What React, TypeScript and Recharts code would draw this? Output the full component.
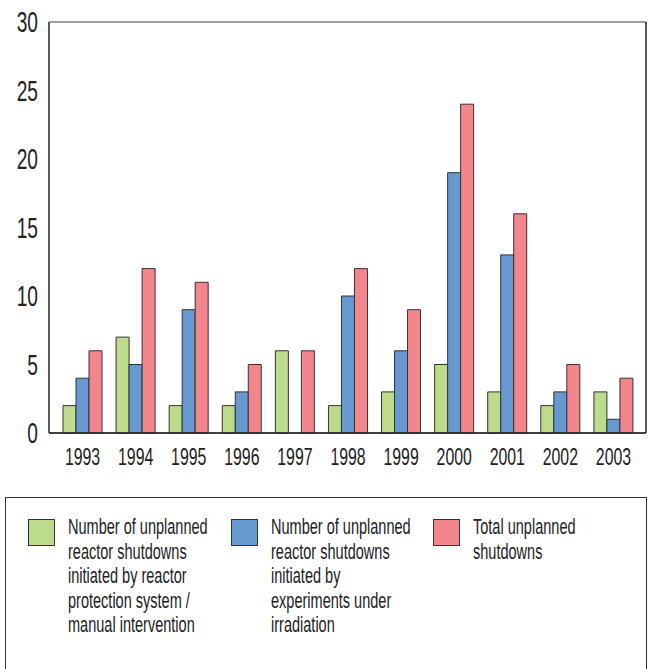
import { BarChart, Bar, XAxis, YAxis, CartesianGrid } from "recharts";

const YEARS = ["1993", "1994", "1995", "1996", "1997", "1998", "1999", "2000", "2001", "2002", "2003"];
const PROTECTION = [2, 7, 2, 2, 6, 2, 3, 5, 3, 2, 3];
const EXPERIMENTS = [4, 5, 9, 3, 0, 10, 6, 19, 13, 3, 1];
const TOTAL = [6, 12, 11, 5, 6, 12, 9, 24, 16, 5, 4];
const Y_TICKS = [0, 5, 10, 15, 20, 25, 30];

const SERIES = [
  { key: "protection", color: "#bcdc8c", label: "Number of unplanned reactor shutdowns initiated by reactor protection system / manual intervention" },
  { key: "experiments", color: "#6699d0", label: "Number of unplanned reactor shutdowns initiated by experiments under irradiation" },
  { key: "total", color: "#f3858c", label: "Total unplanned shutdowns" },
];

const LEGEND_LINES = [
  ["Number of unplanned", "reactor shutdowns", "initiated by reactor", "protection system /", "manual intervention"],
  ["Number of unplanned", "reactor shutdowns", "initiated by", "experiments under", "irradiation"],
  ["Total unplanned", "shutdowns"],
];

const data = YEARS.map((year, i) => ({
  year,
  protection: PROTECTION[i],
  experiments: EXPERIMENTS[i],
  total: TOTAL[i],
}));

const FONT = "'Liberation Sans', Arial, sans-serif";
const SQUEEZE = 0.66;

// squeezed text to get near the condensed face of the original
function XTick({ x, y, payload }: any) {
  return (
    <text
      transform={`translate(${x},${y + 24}) scale(${SQUEEZE},1)`}
      textAnchor="middle"
      fill="#222"
      fontSize={24}
      fontFamily={FONT}
    >
      {payload.value}
    </text>
  );
}

function YTick({ x, y, payload }: any) {
  return (
    <text
      transform={`translate(${x - 3},${y + 10}) scale(${SQUEEZE},1)`}
      textAnchor="end"
      fill="#222"
      fontSize={29}
      fontFamily={FONT}
    >
      {payload.value}
    </text>
  );
}

export default function App() {
  return (
    <div style={{ position: "fixed", left: 0, top: 0, width: 650, height: 669, overflow: "hidden", background: "#fff", fontFamily: FONT }}>
      <BarChart
        width={650}
        height={470}
        data={data}
        margin={{ top: 22, right: 3, left: 0, bottom: 1 }}
        barCategoryGap={7}
        barGap={0}
      >
        <CartesianGrid vertical={false} stroke="#444" strokeWidth={1.2} />
        <XAxis
          dataKey="year"
          height={36}
          padding={{ left: 7, right: 6 }}
          axisLine={{ stroke: "#222", strokeWidth: 1.5 }}
          tickLine={false}
          tick={<XTick />}
          interval={0}
        />
        <YAxis
          yAxisId="left"
          width={49}
          domain={[0, 30]}
          ticks={Y_TICKS}
          interval={0}
          axisLine={{ stroke: "#222", strokeWidth: 1.5 }}
          tickLine={false}
          tick={<YTick />}
        />
        <YAxis
          yAxisId="right"
          orientation="right"
          width={1}
          domain={[0, 30]}
          ticks={Y_TICKS}
          axisLine={{ stroke: "#222", strokeWidth: 1.5 }}
          tickLine={false}
          tick={false}
        />
        {SERIES.map((s) => (
          <Bar
            key={s.key}
            yAxisId="left"
            dataKey={s.key}
            name={s.label}
            fill={s.color}
            stroke="#333"
            strokeWidth={1}
            isAnimationActive={false}
          />
        ))}
      </BarChart>

      <div
        style={{
          position: "absolute",
          left: 5,
          top: 497,
          width: 642,
          height: 200,
          border: "1.5px solid #333",
          boxSizing: "border-box",
        }}
      >
        {SERIES.map((s, i) => (
          <div key={s.key} style={{ position: "absolute", left: 22 + i * 202.5, top: 21, display: "flex" }}>
            <span
              style={{
                width: 27,
                height: 27,
                background: s.color,
                border: "1.5px solid #333",
                boxSizing: "border-box",
                marginRight: 13,
                flexShrink: 0,
              }}
            />
            <div
              style={{
                fontSize: 22,
                lineHeight: "24.5px",
                color: "#222",
                marginTop: -4,
                transform: `scale(${SQUEEZE},1)`,
                transformOrigin: "left top",
              }}
            >
              {LEGEND_LINES[i].map((line) => (
                <div key={line} style={{ whiteSpace: "nowrap" }}>{line}</div>
              ))}
            </div>
          </div>
        ))}
      </div>
    </div>
  );
}
